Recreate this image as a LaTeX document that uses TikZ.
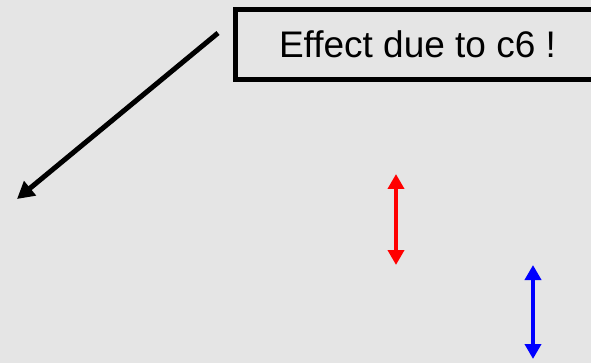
\documentclass[tikz,border=0pt]{standalone}
\usepackage{fontspec}
\setmainfont{Liberation Sans}
\usetikzlibrary{arrows.meta}
\definecolor{bggray}{gray}{0.898}
\tikzset{
  labelbox/.style={draw=black, line width=5pt, rectangle, inner sep=0pt,
    minimum width=365pt, minimum height=69.5pt,
    font=\fontsize{37}{44}\selectfont},
  pointer/.style={line width=5pt, -{Triangle[length=17pt, width=18pt]}},
  span/.style={line width=4.5pt, {Triangle[length=15pt, width=16pt]}-{Triangle[length=15pt, width=16pt]}}
}
\begin{document}
\begin{tikzpicture}[x=1pt, y=-1pt]
  \useasboundingbox (0,0) rectangle (591,363);
  \clip (0,0) rectangle (591,363);
  \fill[bggray] (0,0) rectangle (591,363);
  % callout box, its right side runs off the page
  \node[labelbox] (box) at (417.5,44.75) {Effect due to c6 !};
  % pointer arrow
  \coordinate (ptrfrom) at (218,33);
  \coordinate (ptrto) at (17,199);
  \draw[pointer] (ptrfrom) -- (ptrto);
  % red double arrow
  \coordinate (rtop) at (396,174);
  \coordinate (rbot) at (396,265);
  \draw[span, red] (rtop) -- (rbot);
  % blue double arrow
  \coordinate (btop) at (533,265);
  \coordinate (bbot) at (533,359);
  \draw[span, blue] (btop) -- (bbot);
\end{tikzpicture}
\end{document}
